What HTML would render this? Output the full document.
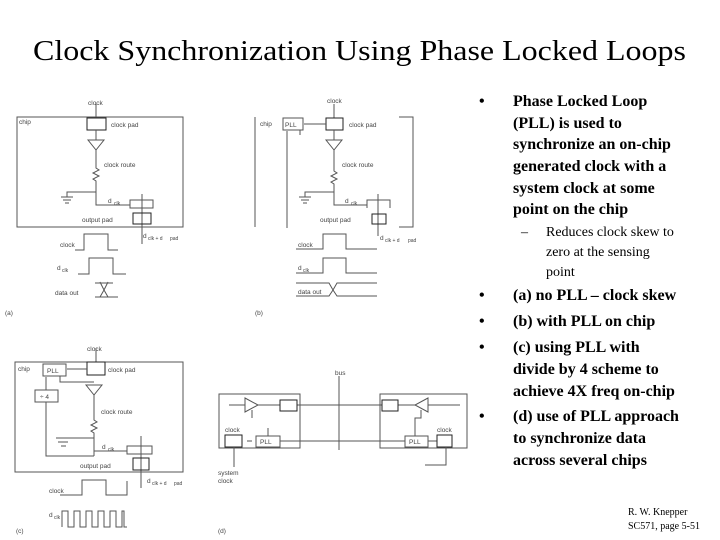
<!DOCTYPE html>
<html><head><meta charset="utf-8"><style>
html,body{margin:0;padding:0;background:#fff}
svg{display:block}
.t{font-family:"Liberation Serif",serif}
.b{font-family:"Liberation Serif",serif;font-weight:bold;font-size:16px;fill:#000}
.s{font-family:"Liberation Sans",sans-serif;font-size:6.5px;fill:#444}
</style></head><body>
<svg width="720" height="540" viewBox="0 0 720 540" xmlns="http://www.w3.org/2000/svg">
<text class="t" x="33" y="60" font-size="28" textLength="653" lengthAdjust="spacingAndGlyphs">Clock Synchronization Using Phase Locked Loops</text>

<g fill="none" stroke="#555" stroke-width="1">
<!-- (a) -->
<rect x="17" y="117" width="166" height="110"/>
<line x1="96" y1="104" x2="96" y2="118"/>
<rect x="87" y="118" width="19" height="12" stroke="#222"/>
<line x1="96" y1="130" x2="96" y2="140"/>
<path d="M88 140 L104 140 L96 150 Z"/>
<path d="M96 150 V168 l3 2 -6 3 6 3 -6 3 3 2 V205 H130"/>
<path d="M96 192 H67 V197 M61 197 H73 M63 200 H71 M65 203 H69"/>
<rect x="130" y="200" width="23" height="8"/>
<line x1="142" y1="194" x2="142" y2="244"/>
<rect x="133" y="213" width="18" height="11" stroke="#222"/>
<path d="M75 250 H84 V234 H108 V250 H118"/>
<path d="M78 274 H89 V258 H113 V274 H126"/>
<path d="M95 283 H113 M95 297 H118 M100 282 L104 290 L100 297 M108 282 L104 290 L108 297"/>
<!-- (b) -->
<line x1="255" y1="117" x2="255" y2="227"/>
<path d="M399 117 H413 V227 H399"/>
<rect x="283" y="118" width="20" height="12"/>
<line x1="334" y1="104" x2="334" y2="118"/>
<rect x="326" y="118" width="17" height="12" stroke="#222"/>
<line x1="326" y1="124" x2="304" y2="124"/>
<path d="M287 228 V131" />
<line x1="300" y1="130" x2="300" y2="135"/>
<line x1="334" y1="130" x2="334" y2="140"/>
<path d="M326 140 L342 140 L334 150 Z"/>
<path d="M334 150 V171 l3 2 -6 3 6 3 -6 3 3 2 V205 H367"/>
<path d="M334 192 H305 V197 M299 197 H311 M301 200 H309 M303 203 H307"/>
<path d="M367 208 V200 H390 V208"/>
<line x1="378" y1="194" x2="378" y2="236"/>
<rect x="372" y="214" width="14" height="10" stroke="#222"/>
<path d="M296 249 H323 V234 H346 V249 H377"/>
<path d="M296 273 H323 V258 H346 V273 H377"/>
<path d="M296 283 H329 L333 290 L337 283 H377 M296 296 H329 L333 290 L337 296 H377"/>
<!-- (c) -->
<rect x="15" y="362" width="168" height="110"/>
<rect x="43" y="364" width="23" height="12"/>
<line x1="96" y1="348" x2="96" y2="362"/>
<rect x="87" y="362" width="18" height="13" stroke="#222"/>
<line x1="87" y1="369" x2="67" y2="369"/>
<path d="M60 376 V382 H94"/>
<rect x="35" y="390" width="23" height="12"/>
<path d="M46 390 V377"/>
<path d="M46 402 V456 H94"/>
<path d="M86 385 L102 385 L94 395 Z"/>
<path d="M94 395 V420 l3 2 -6 3 6 3 -6 3 3 2 V456 M94 438 H60 M56 438 H70 M58 442 H68 M61 446 H66 M94 451 H127"/>
<rect x="127" y="446" width="25" height="8"/>
<line x1="141" y1="436" x2="141" y2="488"/>
<rect x="133" y="458" width="16" height="12" stroke="#222"/>
<path d="M60 495 H82 V480 H106 V495 H127 V481"/>
<path d="M62 527 V511 H68 V527 H74 V511 H80 V527 H86 V511 H92 V527 H98 V511 H104 V527 H110 V511 H116 V527 H122 V511 H124 V527 H127"/>
<!-- (d) -->
<rect x="219" y="394" width="81" height="54"/>
<rect x="380" y="394" width="87" height="54"/>
<line x1="339" y1="376" x2="339" y2="450"/>
<line x1="229" y1="405" x2="460" y2="405"/>
<path d="M245 398 L258 405 L245 412 Z" fill="#fff"/>
<line x1="252" y1="410" x2="252" y2="418"/>
<rect x="280" y="400" width="17" height="11" stroke="#222" fill="#fff"/>
<rect x="382" y="400" width="16" height="11" stroke="#222" fill="#fff"/>
<path d="M428 398 L415 405 L428 412 Z" fill="#fff"/>
<path d="M421 410 V418 H415 V436"/>
<rect x="225" y="435" width="17" height="12" stroke="#222"/>
<line x1="234" y1="447" x2="234" y2="467"/>
<rect x="256" y="436" width="24" height="11"/>
<line x1="268" y1="436" x2="268" y2="428"/>
<line x1="280" y1="441" x2="405" y2="441"/>
<line x1="252" y1="441" x2="247" y2="441"/>
<rect x="405" y="436" width="23" height="11"/>
<line x1="428" y1="441" x2="437" y2="441"/>
<rect x="437" y="435" width="15" height="12" stroke="#222"/>
<path d="M446 447 V465 H425"/>
</g>
<g class="s">
<text x="88" y="105">clock</text><text x="19" y="124">chip</text><text x="111" y="127">clock pad</text>
<text x="104" y="167">clock route</text><text x="108" y="203">d</text><text x="114" y="205" font-size="5">clk</text>
<text x="82" y="222">output pad</text><text x="143" y="238">d</text><text x="148" y="240" font-size="5">clk + d</text><text x="170" y="240" font-size="5">pad</text>
<text x="60" y="247">clock</text><text x="57" y="270">d</text><text x="62" y="272" font-size="5">clk</text><text x="55" y="295">data out</text><text x="5" y="315">(a)</text>
<text x="327" y="103">clock</text><text x="260" y="126">chip</text><text x="285" y="127">PLL</text><text x="349" y="127">clock pad</text>
<text x="342" y="167">clock route</text><text x="345" y="203">d</text><text x="351" y="205" font-size="5">clk</text>
<text x="320" y="222">output pad</text><text x="380" y="240">d</text><text x="385" y="242" font-size="5">clk + d</text><text x="408" y="242" font-size="5">pad</text>
<text x="298" y="247">clock</text><text x="298" y="270">d</text><text x="303" y="272" font-size="5">clk</text><text x="298" y="294">data out</text><text x="255" y="315">(b)</text>
<text x="87" y="351">clock</text><text x="18" y="371">chip</text><text x="47" y="373">PLL</text><text x="108" y="372">clock pad</text><text x="40" y="399">÷ 4</text>
<text x="101" y="414">clock route</text><text x="102" y="449">d</text><text x="108" y="451" font-size="5">clk</text>
<text x="80" y="468">output pad</text><text x="147" y="483">d</text><text x="152" y="485" font-size="5">clk + d</text><text x="174" y="485" font-size="5">pad</text>
<text x="49" y="493">clock</text><text x="49" y="517">d</text><text x="54" y="519" font-size="5">clk</text><text x="16" y="533">(c)</text>
<text x="335" y="375">bus</text><text x="225" y="432">clock</text><text x="260" y="444">PLL</text><text x="409" y="444">PLL</text><text x="437" y="432">clock</text>
<text x="218" y="475">system</text><text x="218" y="483">clock</text><text x="218" y="533">(d)</text>
</g>

<g class="b">
<text x="479" y="106">•</text>
<text x="513" y="106">Phase Locked Loop</text>
<text x="513" y="128">(PLL) is used to</text>
<text x="513" y="149">synchronize an on-chip</text>
<text x="513" y="171">generated clock with a</text>
<text x="513" y="193">system clock at some</text>
<text x="513" y="214">point on the chip</text>
<text x="479" y="300">•</text><text x="513" y="300">(a) no PLL – clock skew</text>
<text x="479" y="326">•</text><text x="513" y="326">(b) with PLL on chip</text>
<text x="479" y="352">•</text><text x="513" y="352">(c) using PLL with</text>
<text x="513" y="374">divide by 4 scheme to</text>
<text x="513" y="396">achieve 4X freq on-chip</text>
<text x="479" y="421">•</text><text x="513" y="421">(d) use of PLL approach</text>
<text x="513" y="443">to synchronize data</text>
<text x="513" y="465">across several chips</text>
</g>
<g class="t" font-size="14">
<text x="521" y="236">–</text>
<text x="546" y="236">Reduces clock skew to</text>
<text x="546" y="256">zero at the sensing</text>
<text x="546" y="276">point</text>
</g>
<g class="t" font-size="10">
<text x="628" y="515">R. W. Knepper</text>
<text x="628" y="529">SC571, page 5-51</text>
</g>
</svg>
</body></html>
